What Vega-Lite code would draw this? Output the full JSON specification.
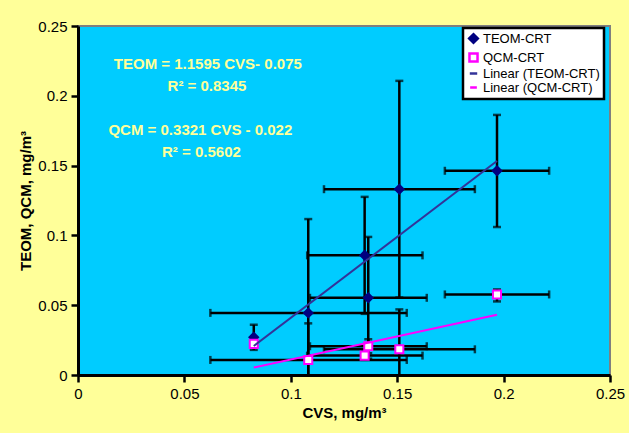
{
  "$schema": "https://vega.github.io/schema/vega-lite/v6.json",
  "width": 532,
  "height": 349,
  "autosize": {"type": "none"},
  "padding": {"left": 78, "top": 26, "right": 19, "bottom": 58},
  "background": "#ffff99",
  "config": {
    "font": "Liberation Sans",
    "view": {"fill": "#00ccff", "stroke": "#7f7f7f", "strokeWidth": 2},
    "axis": {
      "grid": false,
      "domainColor": "black",
      "domainWidth": 3,
      "tickColor": "black",
      "tickWidth": 2.5,
      "tickSize": 7,
      "labelFont": "Liberation Sans",
      "labelFontSize": 15,
      "labelColor": "black",
      "labelPadding": 4,
      "labelFlush": false,
      "labelOverlap": false,
      "titleFont": "Liberation Sans",
      "titleFontSize": 15,
      "titleFontWeight": "bold",
      "titleColor": "black"
    },
    "legend": {
      "orient": "none",
      "legendX": 385,
      "legendY": 2,
      "fillColor": "white",
      "strokeColor": "black",
      "strokeWidth": 2.5,
      "padding": 4,
      "labelFont": "Liberation Sans",
      "labelFontSize": 13,
      "labelColor": "black",
      "labelOffset": 3,
      "rowPadding": 0,
      "symbolStrokeWidth": 2.5
    }
  },
  "datasets": {
    "obs": [
      {"sample": "A", "series": "TEOM-CRT", "cvs": 0.0826, "cvs_lo": 0.0826, "cvs_hi": 0.0826, "y": 0.027, "y_lo": 0.018, "y_hi": 0.036},
      {"sample": "A", "series": "QCM-CRT", "cvs": 0.0826, "cvs_lo": 0.0826, "cvs_hi": 0.0826, "y": 0.0223, "y_lo": 0.0203, "y_hi": 0.0243},
      {"sample": "B", "series": "TEOM-CRT", "cvs": 0.1082, "cvs_lo": 0.0622, "cvs_hi": 0.1545, "y": 0.0445, "y_lo": -0.0227, "y_hi": 0.1117},
      {"sample": "B", "series": "QCM-CRT", "cvs": 0.1082, "cvs_lo": 0.0622, "cvs_hi": 0.1545, "y": 0.0108, "y_lo": -0.0154, "y_hi": 0.037},
      {"sample": "C", "series": "TEOM-CRT", "cvs": 0.1347, "cvs_lo": 0.1077, "cvs_hi": 0.1619, "y": 0.0857, "y_lo": 0.0438, "y_hi": 0.1276},
      {"sample": "C", "series": "QCM-CRT", "cvs": 0.1347, "cvs_lo": 0.1077, "cvs_hi": 0.1619, "y": 0.0139, "y_lo": 0.0109, "y_hi": 0.0169},
      {"sample": "D", "series": "TEOM-CRT", "cvs": 0.1364, "cvs_lo": 0.109, "cvs_hi": 0.1639, "y": 0.0553, "y_lo": 0.0117, "y_hi": 0.0989},
      {"sample": "D", "series": "QCM-CRT", "cvs": 0.1364, "cvs_lo": 0.109, "cvs_hi": 0.1639, "y": 0.0206, "y_lo": 0.0156, "y_hi": 0.0256},
      {"sample": "E", "series": "TEOM-CRT", "cvs": 0.151, "cvs_lo": 0.1156, "cvs_hi": 0.1865, "y": 0.1331, "y_lo": 0.0555, "y_hi": 0.2107},
      {"sample": "E", "series": "QCM-CRT", "cvs": 0.151, "cvs_lo": 0.1156, "cvs_hi": 0.1865, "y": 0.0184, "y_lo": -0.0102, "y_hi": 0.047},
      {"sample": "F", "series": "TEOM-CRT", "cvs": 0.1969, "cvs_lo": 0.1724, "cvs_hi": 0.2214, "y": 0.1463, "y_lo": 0.106, "y_hi": 0.1863},
      {"sample": "F", "series": "QCM-CRT", "cvs": 0.1969, "cvs_lo": 0.1724, "cvs_hi": 0.2214, "y": 0.0577, "y_lo": 0.0527, "y_hi": 0.0613}
    ],
    "trend": [
      {"series": "Linear (TEOM-CRT)", "cvs": 0.0826, "y": 0.0208},
      {"series": "Linear (TEOM-CRT)", "cvs": 0.1969, "y": 0.1533},
      {"series": "Linear (QCM-CRT)", "cvs": 0.0826, "y": 0.0054},
      {"series": "Linear (QCM-CRT)", "cvs": 0.1969, "y": 0.0432}
    ],
    "notes": [
      {"label": "TEOM = 1.1595 CVS- 0.075", "cvs": 0.061, "y": 0.2229},
      {"label": "R² = 0.8345", "cvs": 0.0606, "y": 0.207},
      {"label": "QCM = 0.3321 CVS - 0.022", "cvs": 0.0575, "y": 0.1756},
      {"label": "R² = 0.5602", "cvs": 0.058, "y": 0.1598}
    ]
  },
  "layer": [
    {
      "data": {"name": "obs"},
      "mark": {"type": "rule", "color": "black", "strokeWidth": 2.5, "clip": true},
      "encoding": {
        "x": {"field": "cvs", "type": "quantitative", "title": "CVS, mg/m³", "scale": {"domain": [0, 0.25], "nice": false, "zero": false}, "axis": {"values": [0, 0.05, 0.1, 0.15, 0.2, 0.25], "format": ".2~f"}},
        "y": {"field": "y_lo", "type": "quantitative", "title": "TEOM, QCM, mg/m³", "scale": {"domain": [0, 0.25], "nice": false, "zero": false}, "axis": {"values": [0, 0.05, 0.1, 0.15, 0.2, 0.25], "format": ".2~f"}},
        "y2": {"field": "y_hi"}
      }
    },
    {
      "data": {"name": "obs"},
      "mark": {"type": "rule", "color": "black", "strokeWidth": 2.5, "clip": true},
      "encoding": {
        "x": {"field": "cvs_lo", "type": "quantitative", "title": "CVS, mg/m³"},
        "x2": {"field": "cvs_hi"},
        "y": {"field": "y", "type": "quantitative", "title": "TEOM, QCM, mg/m³"}
      }
    },
    {
      "data": {"name": "obs"},
      "mark": {"type": "tick", "orient": "horizontal", "color": "black", "size": 8, "thickness": 2.5, "clip": true},
      "encoding": {
        "x": {"field": "cvs", "type": "quantitative", "title": "CVS, mg/m³"},
        "y": {"field": "y_lo", "type": "quantitative", "title": "TEOM, QCM, mg/m³"}
      }
    },
    {
      "data": {"name": "obs"},
      "mark": {"type": "tick", "orient": "horizontal", "color": "black", "size": 8, "thickness": 2.5, "clip": true},
      "encoding": {
        "x": {"field": "cvs", "type": "quantitative", "title": "CVS, mg/m³"},
        "y": {"field": "y_hi", "type": "quantitative", "title": "TEOM, QCM, mg/m³"}
      }
    },
    {
      "data": {"name": "obs"},
      "mark": {"type": "tick", "orient": "vertical", "color": "black", "size": 8, "thickness": 2.5, "clip": true},
      "encoding": {
        "x": {"field": "cvs_lo", "type": "quantitative", "title": "CVS, mg/m³"},
        "y": {"field": "y", "type": "quantitative", "title": "TEOM, QCM, mg/m³"}
      }
    },
    {
      "data": {"name": "obs"},
      "mark": {"type": "tick", "orient": "vertical", "color": "black", "size": 8, "thickness": 2.5, "clip": true},
      "encoding": {
        "x": {"field": "cvs_hi", "type": "quantitative", "title": "CVS, mg/m³"},
        "y": {"field": "y", "type": "quantitative", "title": "TEOM, QCM, mg/m³"}
      }
    },
    {
      "data": {"name": "obs"},
      "mark": {"type": "point", "filled": true, "opacity": 1, "strokeWidth": 2},
      "encoding": {
        "x": {"field": "cvs", "type": "quantitative", "title": "CVS, mg/m³"},
        "y": {"field": "y", "type": "quantitative", "title": "TEOM, QCM, mg/m³"},
        "fill": {
          "field": "series", "type": "nominal",
          "scale": {"domain": ["TEOM-CRT", "QCM-CRT", "Linear (TEOM-CRT)", "Linear (QCM-CRT)"], "range": ["#000080", "#ffffff", "#333399", "#ff00ff"]},
          "legend": {"title": null}
        },
        "stroke": {
          "field": "series", "type": "nominal",
          "scale": {"domain": ["TEOM-CRT", "QCM-CRT", "Linear (TEOM-CRT)", "Linear (QCM-CRT)"], "range": ["#000080", "#ff00ff", "#333399", "#ff00ff"]},
          "legend": {"title": null}
        },
        "shape": {
          "field": "series", "type": "nominal",
          "scale": {"domain": ["TEOM-CRT", "QCM-CRT", "Linear (TEOM-CRT)", "Linear (QCM-CRT)"], "range": ["diamond", "square", "stroke", "stroke"]},
          "legend": {"title": null}
        },
        "size": {
          "field": "series", "type": "nominal",
          "scale": {"domain": ["TEOM-CRT", "QCM-CRT", "Linear (TEOM-CRT)", "Linear (QCM-CRT)"], "range": [75, 45, 280, 280]},
          "legend": {"title": null}
        }
      }
    },
    {
      "data": {"name": "trend"},
      "mark": {"type": "line", "strokeWidth": 2},
      "encoding": {
        "x": {"field": "cvs", "type": "quantitative", "title": "CVS, mg/m³"},
        "y": {"field": "y", "type": "quantitative", "title": "TEOM, QCM, mg/m³"},
        "stroke": {"field": "series", "type": "nominal", "legend": {"title": null}},
        "detail": {"field": "series"}
      }
    },
    {
      "data": {"name": "notes"},
      "mark": {"type": "text", "font": "Liberation Sans", "fontSize": 15, "fontWeight": "bold", "color": "#ffff99", "align": "center", "baseline": "middle"},
      "encoding": {
        "x": {"field": "cvs", "type": "quantitative", "title": "CVS, mg/m³"},
        "y": {"field": "y", "type": "quantitative", "title": "TEOM, QCM, mg/m³"},
        "text": {"field": "label"}
      }
    }
  ]
}
